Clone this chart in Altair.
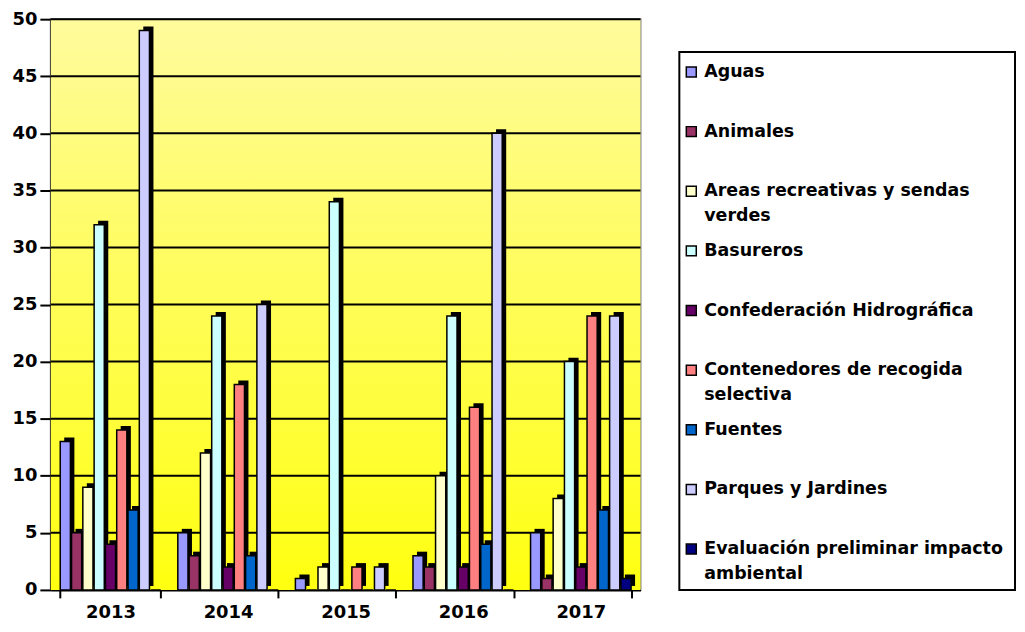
import altair as alt
import pandas as pd

years = ["2013", "2014", "2015", "2016", "2017"]
series = [
    "Aguas",
    "Animales",
    "Areas recreativas y sendas verdes",
    "Basureros",
    "Confederación Hidrográfica",
    "Contenedores de recogida selectiva",
    "Fuentes",
    "Parques y Jardines",
    "Evaluación preliminar impacto ambiental",
]
legend_labels = [
    "Aguas",
    "Animales",
    "Areas recreativas y sendas\nverdes",
    "Basureros",
    "Confederación Hidrográfica",
    "Contenedores de recogida\nselectiva",
    "Fuentes",
    "Parques y Jardines",
    "Evaluación preliminar impacto\nambiental",
]
colors = ["#9999FF", "#993366", "#FFFFCC", "#CCFFFF", "#660066",
          "#FF8080", "#0066CC", "#CCCCFF", "#000080"]

aguas = [13, 5, 1, 3, 5]
animales = [5, 3, 0, 2, 1]
areas = [9, 12, 2, 10, 8]
basureros = [32, 24, 34, 24, 20]
confederacion = [4, 2, 0, 2, 2]
contenedores = [14, 18, 2, 16, 24]
fuentes = [7, 3, 0, 4, 7]
parques = [49, 25, 2, 40, 24]
evaluacion = [0, 0, 0, 0, 1]

y_ticks = list(range(0, 51, 5))

all_vals = [aguas, animales, areas, basureros, confederacion,
            contenedores, fuentes, parques, evaluacion]
rows = []
for s, vals in zip(series, all_vals):
    for yr, v in zip(years, vals):
        rows.append({"year": yr, "series": s, "value": v})
df = pd.DataFrame(rows)

W, H = 592, 573
PI, PO = 0.145, 0.08
STEP = W / (len(years) - PI + 2 * PO)
BW = STEP * (1 - PI)
DX, DY = 4, 4
FONT = "DejaVu Sans"

x_enc = alt.X(
    "year:N", sort=years,
    scale=alt.Scale(paddingInner=PI, paddingOuter=PO),
    axis=alt.Axis(title=None, tickBand="extent", labelAngle=0,
                  labelFont=FONT, labelFontSize=18, labelFontWeight="bold",
                  labelColor="black", domainColor="black", domainWidth=2,
                  tickColor="black", tickWidth=2, tickSize=8, labelPadding=6,
                  grid=False),
)
y_enc = alt.Y(
    "value:Q", scale=alt.Scale(domain=[0, 50], nice=False),
    axis=alt.Axis(title=None, values=y_ticks, labelFont=FONT, labelFontSize=18,
                  labelFontWeight="bold", labelColor="black", domainColor="black",
                  domainWidth=2, tickColor="black", tickWidth=2, tickSize=11,
                  labelPadding=3, grid=False),
)

bg = alt.Chart(pd.DataFrame({"a": [0]})).mark_rect(
    color=alt.LinearGradient(
        gradient="linear", x1=0, x2=0, y1=0, y2=1,
        stops=[alt.GradientStop(color="#FFFB9C", offset=0),
               alt.GradientStop(color="#FFFF10", offset=1)],
    )
).encode(x=alt.value(0), x2=alt.value(W), y=alt.value(0), y2=alt.value(H))

grid = alt.Chart(pd.DataFrame({"v": y_ticks[1:]})).mark_rule(
    color="black", strokeWidth=2
).encode(y=alt.Y("v:Q"))

shadow = alt.Chart(df).mark_bar(color="black", yOffset=-DY).encode(
    x=x_enc,
    xOffset=alt.XOffset("series:N", sort=series,
                        scale=alt.Scale(paddingInner=0.1, paddingOuter=0,
                                        range=[DX, BW + DX])),
    y=y_enc,
)
face = alt.Chart(df).mark_bar(stroke="black", strokeWidth=1.5).encode(
    x=x_enc,
    xOffset=alt.XOffset("series:N", sort=series,
                        scale=alt.Scale(paddingInner=0.1, paddingOuter=0,
                                        range=[0, BW])),
    y=y_enc,
    color=alt.Color("series:N", scale=alt.Scale(domain=series, range=colors),
                    legend=None),
)

main = alt.layer(bg, grid, shadow, face).resolve_scale(
    xOffset="independent"
).properties(
    width=W, height=H,
    view=alt.ViewBackground(stroke="#808080", strokeWidth=2),
)

leg_df = pd.DataFrame({"idx": list(range(len(series))), "series": series,
                       "label": legend_labels})
LW = 339
box = alt.Chart(pd.DataFrame({"a": [0]})).mark_rect(
    fill="white", stroke="black", strokeWidth=2
).encode(x=alt.value(1), x2=alt.value(LW - 1), y=alt.value(33), y2=alt.value(573))

y_leg = alt.Y("idx:Q", scale=alt.Scale(domain=[0, 8], range=[53, 532]), axis=None)
sq = alt.Chart(leg_df).mark_square(size=100, stroke="black", strokeWidth=1.5,
                                   opacity=1).encode(
    x=alt.value(13), y=y_leg,
    color=alt.Color("series:N", scale=alt.Scale(domain=series, range=colors),
                    legend=None),
)
txt = alt.Chart(leg_df).mark_text(
    align="left", baseline="middle", font=FONT, fontSize=17.5, fontWeight="bold",
    color="black", lineBreak="\n", lineHeight=25,
).encode(x=alt.value(26), y=y_leg, text="label:N")

legend = alt.layer(box, sq, txt).properties(
    width=LW, height=H,
    view=alt.ViewBackground(stroke="transparent"),
)

chart = alt.hconcat(main, legend, spacing=35).resolve_scale(
    y="independent", color="shared"
).properties(
    padding={"left": 2, "top": 0, "right": 0, "bottom": 0},
    background="white",
)

chart.save("out.html", embed_options={"renderer": "svg", "actions": False})
